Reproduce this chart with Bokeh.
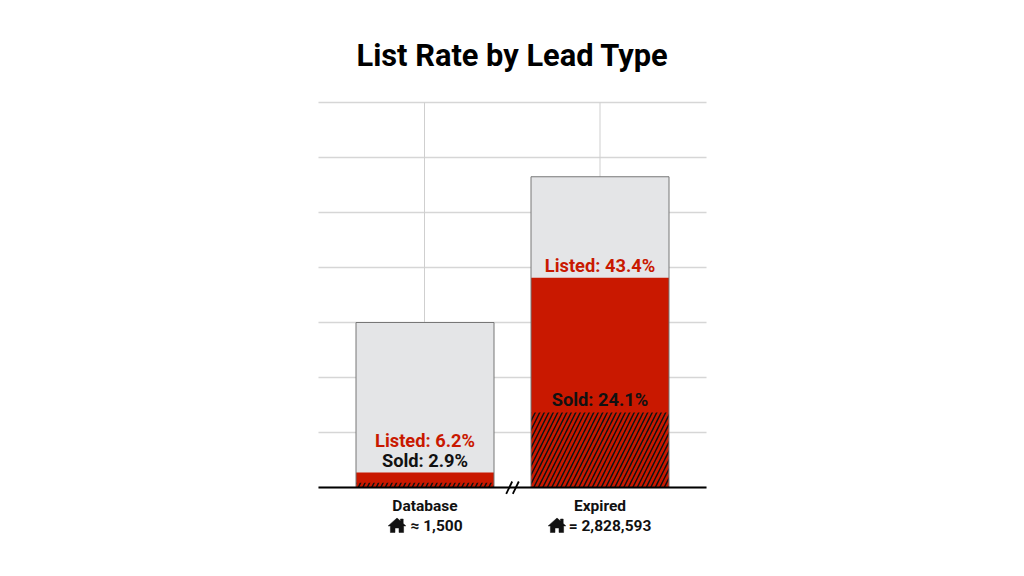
from bokeh.plotting import figure, ColumnDataSource
from bokeh.models import Range1d, FixedTicker, LinearAxis
from bokeh.core.properties import value
from bokeh.embed import file_html
from bokeh.resources import INLINE

categories = ["Database", "Expired"]
counts = ["≈ 1,500", "= 2,828,593"]
listed_pct = [6.2, 43.4]
sold_pct = [2.9, 24.1]
bar_total = [3.0, 5.65]  # bar heights in gridline units
grid_values = [0, 1, 2, 3, 4, 5, 6, 7]
title_text = "List Rate by Lead Type"

RED = "#c91800"
GREY = "#e4e5e7"
EDGE = "#777777"
INK = "#111111"
FONT = value("Roboto")

W_PX, H_PX = 1008, 560
UX, UY = 175.0, 55.0    # pixels per data unit
X0_PX, Y0_PX = 424.5, 487.0


def dx(px):
    return (px - X0_PX) / UX


def dy(py):
    return (Y0_PX - py) / UY


x = [0, 1]
XL, XR = dx(318), dx(706)
sold_top = [t * s / 100 for t, s in zip(bar_total, sold_pct)]
red_top = [t * (s + l) / 100 for t, s, l in zip(bar_total, sold_pct, listed_pct)]

p = figure(width=W_PX, height=H_PX, output_backend="svg", toolbar_location=None,
           x_range=Range1d(dx(0), dx(W_PX)), y_range=Range1d(dy(H_PX), dy(0)),
           x_axis_location=None, y_axis_location=None,
           min_border_left=0, min_border_right=0, min_border_top=0, min_border_bottom=0)
p.outline_line_color = None
p.background_fill_color = "white"
p.grid.visible = False

# gridlines limited to the chart's area
p.segment(x0=[XL] * len(grid_values), x1=[XR] * len(grid_values), y0=grid_values, y1=grid_values,
          line_color="#d6d6d6", line_width=1.5)
p.segment(x0=[dx(424), dx(599.5)], x1=[dx(424), dx(599.5)], y0=[0, 0], y1=[7, 7], line_color="#cfcfcf", line_width=1)

W = 138 / UX
p.vbar(x=x, width=W, bottom=0, top=bar_total, fill_color=GREY, line_color=None)
p.vbar(x=x, width=W, bottom=0, top=red_top, fill_color=RED, line_color=None)
p.vbar(x=x, width=W, bottom=0, top=sold_top, fill_color=RED, line_color=None,
       hatch_pattern="right_diagonal_line", hatch_color=INK, hatch_weight=1.5, hatch_scale=9)
p.vbar(x=x, width=W, bottom=0, top=bar_total, fill_color=None, line_color=EDGE, line_width=1)

axis = LinearAxis(ticker=FixedTicker(ticks=x), fixed_location=0, bounds=(XL, XR),
                  major_label_overrides={i: c for i, c in enumerate(categories)})
axis.axis_line_color = "black"
axis.axis_line_width = 2
axis.major_tick_line_color = None
axis.minor_tick_line_color = None
axis.major_label_standoff = 3
axis.major_label_text_font = "Roboto"
axis.major_label_text_font_style = "bold"
axis.major_label_text_font_size = "15.5px"
axis.major_label_text_color = INK
p.add_layout(axis, "below")

# axis break
p.segment(x0=[dx(511.6)], x1=[dx(512.6)], y0=[0], y1=[0], line_color="white", line_width=3)
p.segment(x0=[dx(505.7), dx(512.3)], x1=[dx(511.7), dx(518.3)], y0=[dy(493.3)] * 2, y1=[dy(481)] * 2,
          line_color="black", line_width=1.8)

src_l = ColumnDataSource(dict(x=x, y=red_top, t=[f"Listed: {v}%" for v in listed_pct], off=[-32, -12]))
src_s = ColumnDataSource(dict(x=x, y=[red_top[0], sold_top[1]], t=[f"Sold: {v}%" for v in sold_pct], off=[-12, -13]))
for src, col in ((src_l, RED), (src_s, INK)):
    p.text(x="x", y="y", text="t", source=src, y_offset="off", text_align="center", text_baseline="middle",
           text_font=FONT, text_font_style="bold", text_font_size="18.3px", text_color=col)

p.text(x=[dx(512)], y=[dy(55)], text=[title_text], text_align="center", text_baseline="middle",
       text_font=FONT, text_font_style="bold", text_font_size="30.8px", text_color="black")

# second row under each category: house icon and count
p.text(x=[dx(436), dx(609.5)], y=[dy(525)] * 2, text=counts, text_align="center", text_baseline="middle",
       text_font=FONT, text_font_style="bold", text_font_size="15.5px", text_color=INK)

house = [(0, -7.5), (3.5, -4.4), (3.5, -6.5), (6.2, -6.5), (6.2, -2), (8.8, 0.4), (6.6, 0.4), (6.6, 7),
         (2, 7), (2, 2.5), (-2, 2.5), (-2, 7), (-6.6, 7), (-6.6, 0.4), (-8.8, 0.4)]
for cx in (396.5, 556.5):
    p.patch(x=[dx(cx + a) for a, _ in house], y=[dy(525 + b) for _, b in house],
            fill_color=INK, line_color=INK, line_width=0.5)

open("out.html", "w").write(file_html(p, INLINE))
